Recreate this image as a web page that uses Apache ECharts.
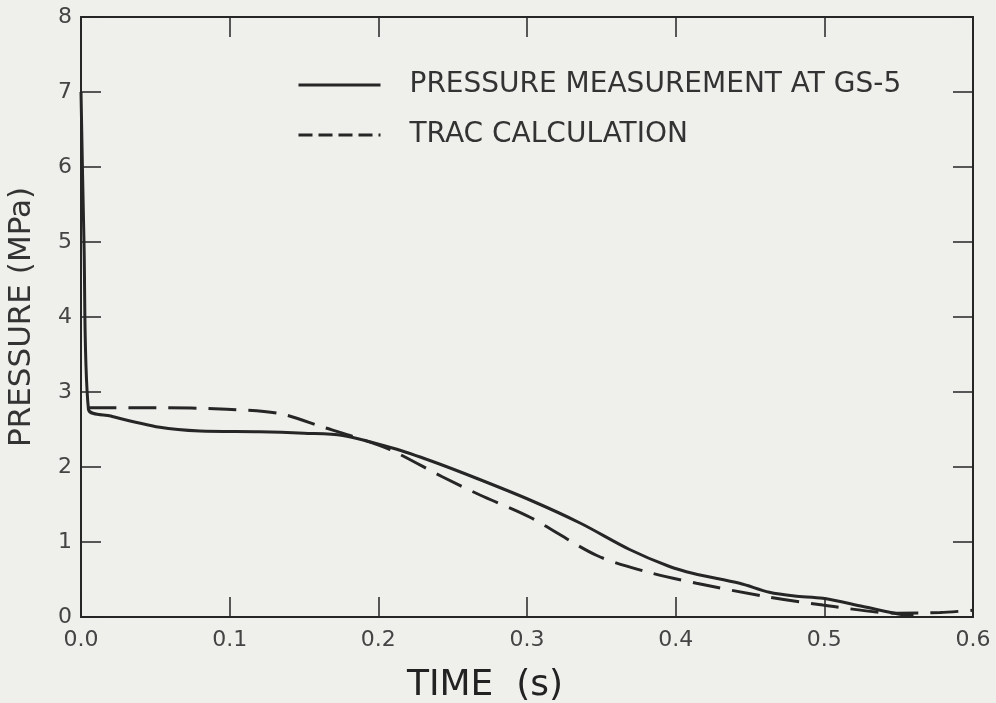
<!DOCTYPE html>
<html>
<head>
<meta charset="utf-8">
<script src="https://cdn.jsdelivr.net/npm/echarts@6/dist/echarts.min.js"></script>
<style>
html,body{margin:0;padding:0;background:#efefec;}
#c{width:996px;height:703px;}
</style>
</head>
<body>
<div id="c"></div>
<script>
const xTicks = [0, 0.1, 0.2, 0.3, 0.4, 0.5, 0.6];
const xTickLabels = ['0.0', '0.1', '0.2', '0.3', '0.4', '0.5', '0.6'];
const yTicks = [0, 1, 2, 3, 4, 5, 6, 7, 8];

const measuredTime = [0, 0.002, 0.005, 0.02, 0.053, 0.08, 0.12, 0.15, 0.176, 0.21, 0.237, 0.266, 0.302, 0.336, 0.369, 0.395, 0.412, 0.443, 0.463, 0.48, 0.499, 0.526, 0.553, 0.56];
const measuredPressure = [7.0, 5.0, 2.77, 2.68, 2.53, 2.48, 2.47, 2.45, 2.42, 2.25, 2.07, 1.85, 1.56, 1.25, 0.9, 0.68, 0.58, 0.45, 0.33, 0.28, 0.25, 0.14, 0.03, 0.02];

const tracTime = [0.005, 0.05, 0.098, 0.134, 0.163, 0.181, 0.208, 0.243, 0.268, 0.302, 0.347, 0.381, 0.414, 0.461, 0.499, 0.549, 0.578, 0.6];
const tracPressure = [2.79, 2.79, 2.77, 2.71, 2.53, 2.42, 2.23, 1.87, 1.63, 1.33, 0.82, 0.6, 0.45, 0.27, 0.16, 0.05, 0.06, 0.09];

const seriesNames = ['PRESSURE MEASUREMENT AT GS-5', 'TRAC CALCULATION'];

const ink = '#262626';
const font = 'DejaVu Sans';

const chart = echarts.init(document.getElementById('c'));
const tickCommon = {show: true, inside: true, length: 20, lineStyle: {color: ink, width: 1.5}};
const lineCommon = {show: true, onZero: false, lineStyle: {color: ink, width: 2}};
chart.setOption({
  backgroundColor: '#efefec',
  animation: false,
  grid: {left: 81, right: 23, top: 17, bottom: 86, containLabel: false, outerBoundsMode: 'none'},
  legend: {
    orient: 'vertical', left: 292, top: 66, itemGap: 22,
    itemWidth: 82, itemHeight: 24,
    itemStyle: {opacity: 0, borderWidth: 0},
    textStyle: {fontFamily: font, fontSize: 28, color: '#333', padding: [0, 0, 0, 24]},
    data: [
      {name: seriesNames[0], lineStyle: {width: 3}},
      {name: seriesNames[1], lineStyle: {type: [14, 6], width: 3}}
    ]
  },
  xAxis: [{
    type: 'value', min: 0, max: 0.6, interval: 0.1,
    name: 'TIME  (s)', nameLocation: 'middle', nameGap: 51,
    nameTextStyle: {fontFamily: font, fontSize: 36, color: '#222', padding: [0, 84, 0, 0]},
    axisLine: lineCommon,
    axisTick: tickCommon,
    splitLine: {show: false},
    axisLabel: {fontFamily: font, fontSize: 22, color: '#444', margin: 12,
      formatter: v => xTickLabels[xTicks.findIndex(t => Math.abs(t - v) < 1e-6)] || ''}
  }, {
    type: 'value', position: 'top', min: 0, max: 0.6, interval: 0.1,
    axisLine: lineCommon,
    axisTick: tickCommon, axisLabel: {show: false}, splitLine: {show: false}
  }],
  yAxis: [{
    type: 'value', min: 0, max: 8, interval: 1,
    name: 'PRESSURE (MPa)', nameLocation: 'middle', nameGap: 44,
    nameTextStyle: {fontFamily: font, fontSize: 31, color: '#333'},
    axisLine: lineCommon,
    axisTick: tickCommon,
    splitLine: {show: false},
    axisLabel: {fontFamily: font, fontSize: 22, color: '#444', margin: 9}
  }, {
    type: 'value', position: 'right', min: 0, max: 8, interval: 1,
    axisLine: lineCommon,
    axisTick: tickCommon, axisLabel: {show: false}, splitLine: {show: false}
  }],
  series: [{
    name: seriesNames[0], type: 'line', showSymbol: false, symbol: 'none', smooth: 0.3,
    lineStyle: {color: ink, width: 3, type: 'solid'}, itemStyle: {color: ink},
    data: measuredTime.map((t, i) => [t, measuredPressure[i]])
  }, {
    name: seriesNames[1], type: 'line', showSymbol: false, symbol: 'none', smooth: 0.3,
    lineStyle: {color: ink, width: 3, type: [28, 12]}, itemStyle: {color: ink},
    data: tracTime.map((t, i) => [t, tracPressure[i]])
  }]
});
</script>
</body>
</html>
